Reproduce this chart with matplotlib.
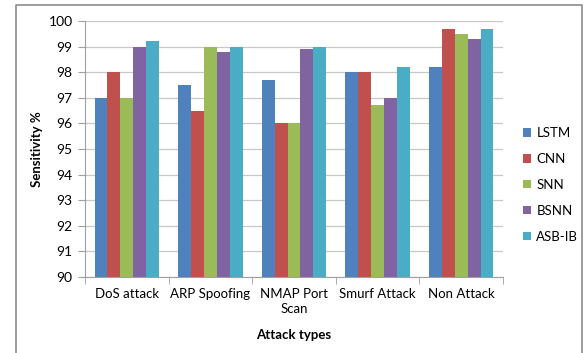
import matplotlib.pyplot as plt
import numpy as np
from matplotlib.lines import Line2D

plt.rcParams['font.family'] = ['Lato', 'DejaVu Sans']

categories = ['DoS attack', 'ARP Spoofing', 'NMAP Port\nScan', 'Smurf Attack', 'Non Attack']
series = ['LSTM', 'CNN', 'SNN', 'BSNN', 'ASB-IB']
lstm = [97.0, 97.5, 97.7, 98.0, 98.2]
cnn = [98.0, 96.5, 96.0, 98.0, 99.7]
snn = [97.0, 99.0, 96.0, 96.7, 99.5]
bsnn = [99.0, 98.8, 98.9, 97.0, 99.3]
asb_ib = [99.2, 99.0, 99.0, 98.2, 99.7]
colors = ['#4F81BD', '#C0504D', '#9BBB59', '#8064A2', '#4BACC6']

W, H = 585, 353
fig = plt.figure(figsize=(W / 100, H / 100), dpi=100)
ax = fig.add_axes([85 / W, 1 - 277 / H, (503 - 85) / W, (277 - 21) / H])

# outer chart border (left, top, right)
fig.add_artist(Line2D([16 / W, 16 / W, 582 / W, 582 / W],
                      [0, 1 - 5 / H, 1 - 5 / H, 0],
                      transform=fig.transFigure, color='#8c8c8c', lw=1.2))

x = np.arange(len(categories))
bw = 0.154
for i, (name, vals) in enumerate(zip(series, [lstm, cnn, snn, bsnn, asb_ib])):
    ax.bar(x + (i - 2) * bw, np.array(vals) - 90, bw, bottom=90,
           color=colors[i], label=name, zorder=3)

ax.set_xlim(-0.5, len(categories) - 0.5)
ax.set_ylim(90, 100)
ax.set_yticks(range(90, 101))
ax.yaxis.grid(True, color='#c8c8c8', lw=0.9, zorder=0)
ax.set_axisbelow(True)

ax.set_xticks(x)
ax.set_xticklabels(categories, fontsize=9.5, linespacing=1.3)
ax.set_xticks(np.arange(-0.5, len(categories)), minor=True)
ax.tick_params(axis='x', which='major', length=0, pad=8)
ax.tick_params(axis='x', which='minor', length=5, color='#a0a0a0')
ax.tick_params(axis='y', length=5, color='#a0a0a0', labelsize=10, pad=4)

for s in ['top', 'right']:
    ax.spines[s].set_visible(False)
for s in ['left', 'bottom']:
    ax.spines[s].set_color('#a0a0a0')

ax.set_ylabel('Sensitivity %', fontsize=9.5, fontweight='bold')
ax.yaxis.set_label_coords(-0.1, 0.5)
ax.set_xlabel('Attack types', fontsize=9.5, fontweight='bold', labelpad=10)

ax.legend(loc='center left', bbox_to_anchor=(1.02, 0.36), frameon=False,
          fontsize=9.5, handlelength=0.6, handleheight=0.6, handletextpad=0.4,
          labelspacing=1.05)

fig.savefig('out.png', dpi=100)
